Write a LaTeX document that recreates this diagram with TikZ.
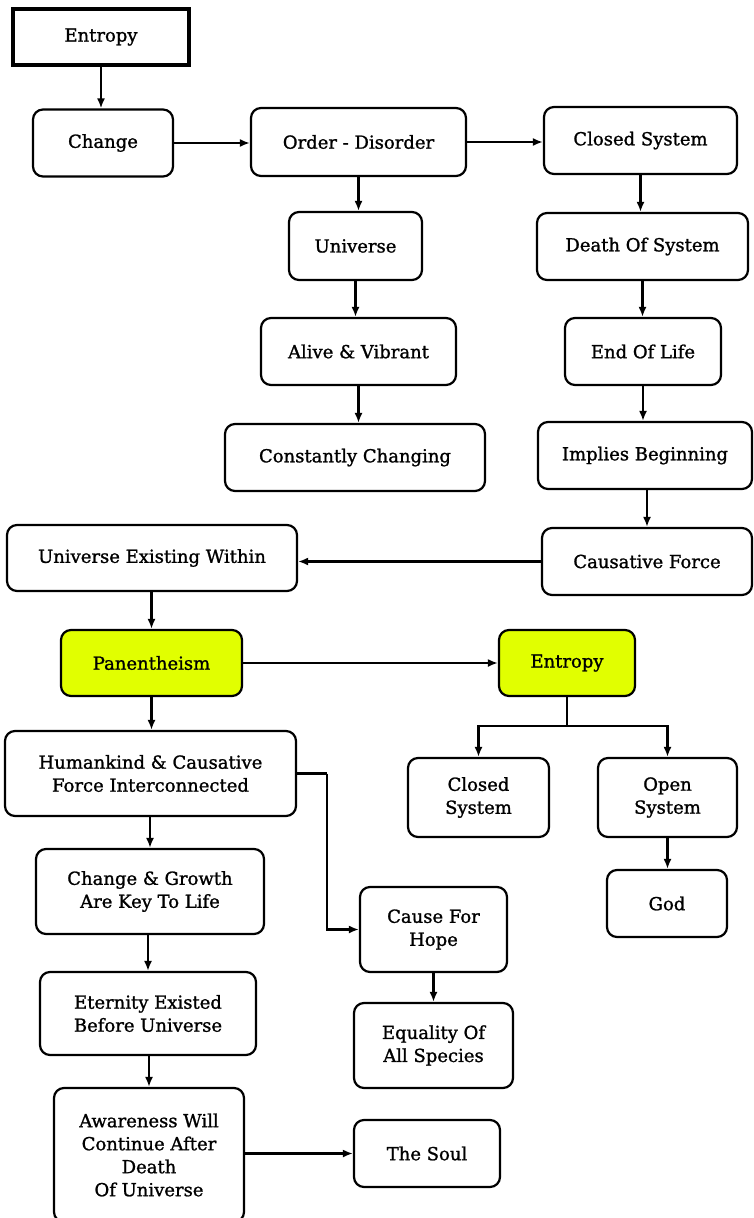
\documentclass[tikz,border=0pt]{standalone}
\usepackage{fontspec}
\setmainfont{DejaVu Serif}
\newfontfamily\boxfont[FakeBold=1.2]{DejaVu Serif}
\usetikzlibrary{arrows.meta}
\definecolor{hl}{RGB}{225,255,0}
\tikzset{
  box/.style={draw, line width=2.2pt, rounded corners=10pt, align=center,
    font=\boxfont\fontsize{18}{23}\selectfont, inner sep=0pt, fill=white},
  hlbox/.style={box, fill=hl},
  arr/.style={line width=2.2pt, -{Latex[length=10pt,width=8pt]}},
  ln/.style={line width=2.2pt}
}
\begin{document}
\begin{tikzpicture}[x=1pt,y=-1pt]
\useasboundingbox (0,0) rectangle (754,1218);
\node[box, line width=4.5pt, rounded corners=0pt, minimum width=176pt, minimum height=56pt] (e1) at (101,37) {Entropy};
\node[box, minimum width=140pt, minimum height=67pt] (change) at (103,143) {Change};
\node[box, minimum width=215pt, minimum height=68pt] (order) at (358.5,142) {Order - Disorder};
\node[box, minimum width=193pt, minimum height=67pt] (closed) at (640.5,140.5) {Closed System};
\node[box, minimum width=133pt, minimum height=68pt] (universe) at (355.5,246) {Universe};
\node[box, minimum width=211pt, minimum height=67pt] (death) at (642.5,246.5) {Death Of System};
\node[box, minimum width=195pt, minimum height=67pt] (alive) at (358.5,351.5) {Alive \& Vibrant};
\node[box, minimum width=156pt, minimum height=67pt] (endlife) at (643,351.5) {End Of Life};
\node[box, minimum width=260pt, minimum height=67pt] (constantly) at (355,457.5) {Constantly Changing};
\node[box, minimum width=214pt, minimum height=67pt] (implies) at (645,455.5) {Implies Beginning};
\node[box, minimum width=290pt, minimum height=66pt] (uew) at (152,558) {Universe Existing Within};
\node[box, minimum width=210pt, minimum height=67pt] (causative) at (647,561.5) {Causative Force};
\node[hlbox, minimum width=181pt, minimum height=66pt] (pan) at (151.5,663) {Panentheism};
\node[hlbox, minimum width=136pt, minimum height=66pt] (entropy2) at (567,663) {Entropy};
\node[box, minimum width=291pt, minimum height=85pt] (human) at (150.5,773.5) {Humankind \& Causative\\Force Interconnected};
\node[box, minimum width=141pt, minimum height=79pt] (closed2) at (478.5,797.5) {Closed\\System};
\node[box, minimum width=139pt, minimum height=79pt] (open) at (667.5,797.5) {Open\\System};
\node[box, minimum width=228pt, minimum height=85pt] (growth) at (150,891.5) {Change \& Growth\\Are Key To Life};
\node[box, minimum width=147pt, minimum height=85pt] (hope) at (433.5,929.5) {Cause For\\Hope};
\node[box, minimum width=120pt, minimum height=67pt] (god) at (667,903.5) {God};
\node[box, minimum width=216pt, minimum height=83pt] (eternity) at (148,1013.5) {Eternity Existed\\Before Universe};
\node[box, minimum width=159pt, minimum height=85pt] (equality) at (433.5,1045.5) {Equality Of\\All Species};
\node[box, minimum width=190pt, minimum height=134pt] (aware) at (149,1155) {Awareness Will\\Continue After\\Death\\Of Universe};
\node[box, minimum width=146pt, minimum height=67pt] (soul) at (427,1153.5) {The Soul};

\draw[arr] (e1.south) -- (e1.south |- change.north);
\draw[arr] (change.east) -- (change.east -| order.west);
\draw[arr] (order.east) -- (order.east -| closed.west);
\draw[arr] (order.south) -- (universe.north -| order.south);
\draw[arr] (closed.south) -- (closed.south |- death.north);
\draw[arr] (universe.south) -- (alive.north -| universe.south);
\draw[arr] (death.south) -- (death.south |- endlife.north);
\draw[arr] (alive.south) -- (alive.south |- constantly.north);
\draw[arr] (endlife.south) -- (endlife.south |- implies.north);
\draw[arr] (implies.south -| causative.north) -- (causative.north);
\draw[arr] (causative.west) -- (causative.west -| uew.east);
\draw[arr] (uew.south -| pan.north) -- (pan.north);
\draw[arr] (pan.east) -- (pan.east -| entropy2.west);
\draw[arr] (pan.south) -- (pan.south |- human.north);
\draw[ln] (entropy2.south) -- ++(0,29) coordinate (split);
\draw[arr] (split) -| (closed2.north);
\draw[arr] (split) -| (open.north);
\draw[ln] (human.east) -- ++(30,0) coordinate (bend);
\draw[arr] (bend) |- (hope.west);
\draw[arr] (human.south -| growth.north) -- (growth.north);
\draw[arr] (growth.south -| eternity.north) -- (eternity.north);
\draw[arr] (hope.south) -- (hope.south |- equality.north);
\draw[arr] (open.south) -- (open.south |- god.north);
\draw[arr] (eternity.south -| aware.north) -- (aware.north);
\draw[arr] (aware.east |- soul.west) -- (soul.west);
\end{tikzpicture}
\end{document}
